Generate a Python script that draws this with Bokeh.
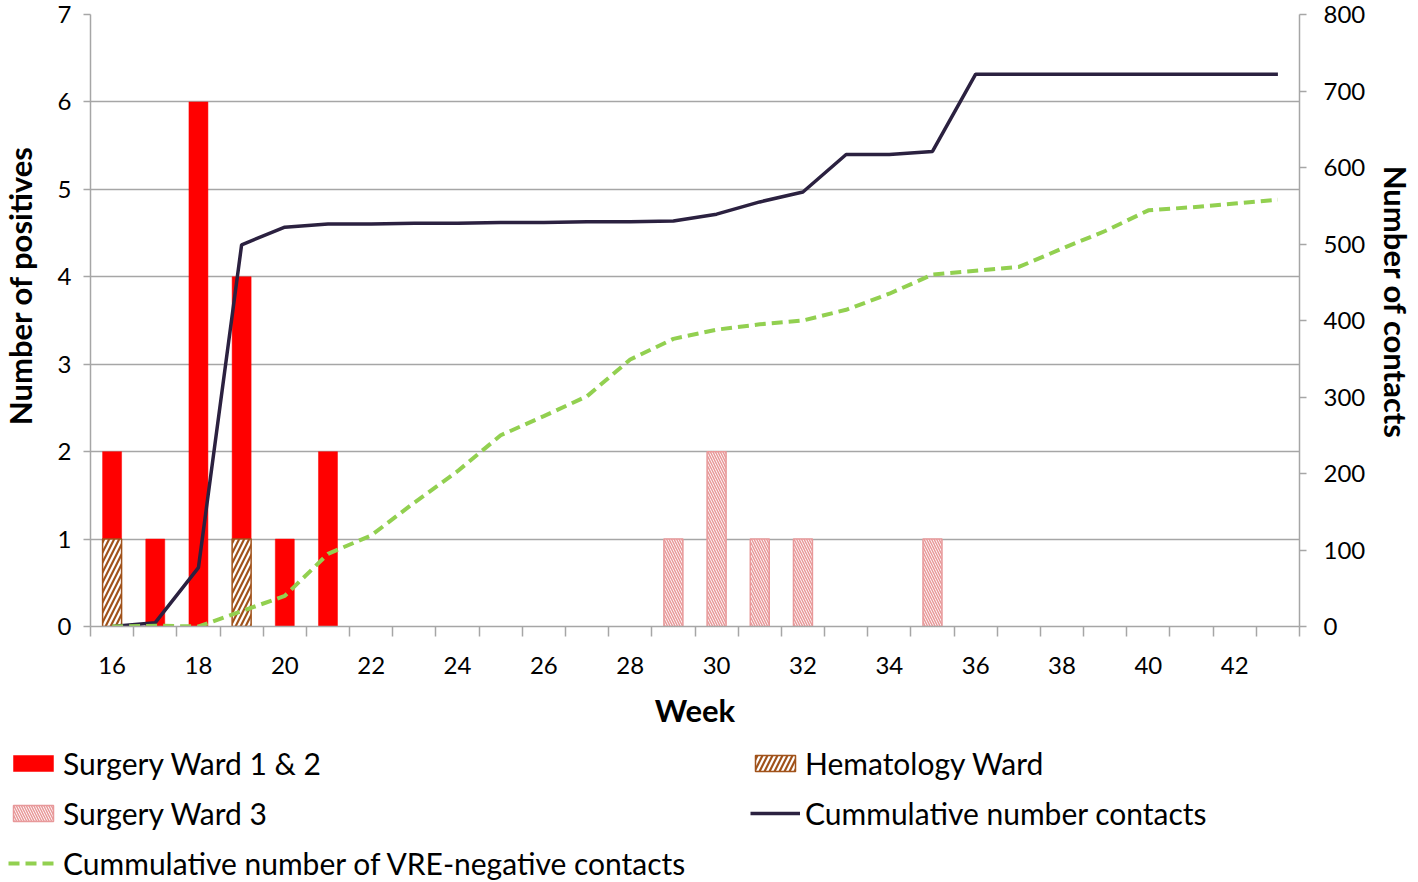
import numpy as np
from bokeh.plotting import figure
from bokeh.layouts import column, row
from bokeh.models import (Range1d, LinearAxis, FixedTicker, Legend, LegendItem,
                          ColumnDataSource, Label)
from bokeh.embed import file_html
from bokeh.resources import INLINE

# ---------------- data ----------------
weeks = list(range(16, 44))
week_tick_labels = [str(w) for w in range(16, 43, 2)]
positives_ticks = list(range(0, 8))
contacts_ticks = list(range(0, 801, 100))

hematology = [1, 0, 0, 1, 0, 0, 0, 0, 0, 0, 0, 0, 0, 0,
              0, 0, 0, 0, 0, 0, 0, 0, 0, 0, 0, 0, 0, 0]
surgery_12 = [1, 1, 6, 3, 1, 2, 0, 0, 0, 0, 0, 0, 0, 0,
              0, 0, 0, 0, 0, 0, 0, 0, 0, 0, 0, 0, 0, 0]
surgery_3 = [0, 0, 0, 0, 0, 0, 0, 0, 0, 0, 0, 0, 0, 1,
             2, 1, 1, 0, 0, 1, 0, 0, 0, 0, 0, 0, 0, 0]
cum_contacts = [0, 5, 77, 499, 522, 526, 526, 527, 527, 528, 528, 529, 529, 530,
                539, 555, 568, 617, 617, 621, 722, 722, 722, 722, 722, 722, 722, 722]
cum_vre_negative = [0, 1, 0, 20, 40, 95, 119, 162, 203, 250, 275, 301, 349, 376,
                    388, 395, 400, 414, 435, 460, 465, 470, 494, 517, 544, 548, 553, 558]

FONT = "Lato"
GRID = "#a6a6a6"
RED = "#ff0000"
BROWN = "#a0521a"
PINK = "#e8999a"
DARK = "#2b2140"
GREEN = "#92d050"

TOP_H = 744      # height of the chart row
LEFT_W = 40      # width of the left title strip
RIGHT_W = 44     # width of the right title strip

# ---------------- main figure ----------------
p = figure(frame_width=1209, frame_height=612,
           x_range=Range1d(15.5, 43.5), y_range=Range1d(0, 7),
           output_backend="svg", toolbar_location=None,
           min_border_left=50, min_border_right=72,
           min_border_top=14, min_border_bottom=118)
p.extra_y_ranges = {"contacts": Range1d(0, 800)}
p.outline_line_color = None

w = np.array(weeks, dtype=float)
hem = np.array(hematology, dtype=float)
s12 = np.array(surgery_12, dtype=float)
s3 = np.array(surgery_3, dtype=float)

m = s12 > 0
src_s12 = ColumnDataSource(dict(x=w[m], bottom=hem[m], top=(hem + s12)[m]))
m = hem > 0
src_hem = ColumnDataSource(dict(x=w[m], bottom=np.zeros(m.sum()), top=hem[m]))
m = s3 > 0
src_s3 = ColumnDataSource(dict(x=w[m], bottom=np.zeros(m.sum()), top=s3[m]))

BW = 0.44
s12_style = dict(fill_color=RED, line_color=RED, line_width=0.5)
hem_style = dict(fill_color="white", line_color=BROWN, line_width=1.5,
                 hatch_pattern="/", hatch_color=BROWN, hatch_weight=2.2, hatch_scale=10)
s3_style = dict(fill_color="white", line_color=PINK, line_width=1.5,
                hatch_pattern="\\", hatch_color=PINK, hatch_weight=1.5, hatch_scale=5)
cont_style = dict(line_color=DARK, line_width=3.5)
vre_style = dict(line_color=GREEN, line_width=4, line_dash="11 6")

p.vbar(x="x", bottom="bottom", top="top", width=BW, source=src_s12, **s12_style)
p.vbar(x="x", bottom="bottom", top="top", width=BW, source=src_hem, **hem_style)
p.vbar(x="x", bottom="bottom", top="top", width=BW, source=src_s3, **s3_style)
p.line(weeks, cum_contacts, y_range_name="contacts", **cont_style)
p.line(weeks, cum_vre_negative, y_range_name="contacts", **vre_style)

# grid
p.xgrid.visible = False
p.ygrid.ticker = FixedTicker(ticks=positives_ticks)
p.ygrid.grid_line_color = GRID
p.ygrid.grid_line_width = 1.5

# x axis
xa = p.xaxis[0]
xa.ticker = FixedTicker(ticks=[int(t) for t in week_tick_labels],
                        minor_ticks=[wk - 0.5 for wk in weeks] + [weeks[-1] + 0.5])
xa.major_tick_line_color = None
xa.major_tick_out = 10
xa.major_tick_in = 0
xa.minor_tick_line_color = GRID
xa.minor_tick_line_width = 1.5
xa.minor_tick_out = 10
xa.minor_tick_in = 0
xa.axis_line_color = GRID
xa.axis_line_width = 1.5
xa.major_label_text_font = FONT
xa.major_label_text_font_size = "24px"
xa.major_label_text_color = "black"
xa.major_label_standoff = 20
xa.axis_label = "Week"
xa.axis_label_text_font = FONT
xa.axis_label_text_font_style = "bold"
xa.axis_label_text_font_size = "31px"
xa.axis_label_text_color = "black"
xa.axis_label_standoff = 14

# left axis
ya = p.yaxis[0]
ya.ticker = FixedTicker(ticks=positives_ticks)
ya.minor_tick_line_color = None
ya.major_tick_out = 7
ya.major_tick_in = 0
ya.major_tick_line_color = GRID
ya.major_tick_line_width = 1.5
ya.axis_line_color = GRID
ya.axis_line_width = 1.5
ya.major_label_text_font = FONT
ya.major_label_text_font_size = "24px"
ya.major_label_text_color = "black"
ya.major_label_standoff = 12

# right axis
ra = LinearAxis(y_range_name="contacts", ticker=FixedTicker(ticks=contacts_ticks))
ra.minor_tick_line_color = None
ra.major_tick_out = 7
ra.major_tick_in = 0
ra.major_tick_line_color = GRID
ra.major_tick_line_width = 1.5
ra.axis_line_color = GRID
ra.axis_line_width = 1.5
ra.major_label_text_font = FONT
ra.major_label_text_font_size = "24px"
ra.major_label_text_color = "black"
ra.major_label_standoff = 17
p.add_layout(ra, "right")

# ---------------- axis title strips ----------------
def strip(width, height):
    f = figure(width=width, height=height, x_range=Range1d(0, width),
               y_range=Range1d(0, height), output_backend="svg",
               toolbar_location=None, x_axis_type=None, y_axis_type=None,
               min_border=0)
    f.frame_align = False
    f.outline_line_color = None
    f.grid.visible = False
    return f

title_style = dict(text_font=FONT, text_font_style="bold", text_font_size="31px",
                   text_color="black", text_align="center", text_baseline="middle",
                   angle_units="deg")

pl = strip(LEFT_W, TOP_H)
pl.add_layout(Label(x=19.5, y=TOP_H - 285, text="Number of positives", angle=90,
                    **title_style))
pr = strip(RIGHT_W, TOP_H)
pr.add_layout(Label(x=24.5, y=TOP_H - 302, text="Number of contacts", angle=-90,
                    **title_style))

# ---------------- legend panel ----------------
p2 = figure(width=1416, height=137, x_range=Range1d(0, 1), y_range=Range1d(0, 1),
            output_backend="svg", toolbar_location=None,
            x_axis_type=None, y_axis_type=None, min_border=0)
p2.frame_align = False
p2.outline_line_color = None
p2.grid.visible = False

# proxy renderers without drawable coordinates; they only carry the legend styles
nan = float("nan")
g_s12 = p2.vbar(x=[nan], bottom=[nan], top=[nan], width=0.1, **s12_style)
g_hem = p2.vbar(x=[nan], bottom=[nan], top=[nan], width=0.1, **hem_style)
g_s3 = p2.vbar(x=[nan], bottom=[nan], top=[nan], width=0.1, **s3_style)
g_cont = p2.line(x=[nan, nan], y=[nan, nan], **cont_style)
g_vre = p2.line(x=[nan, nan], y=[nan, nan], **vre_style)

items = [
    LegendItem(label="Surgery Ward 1 & 2", renderers=[g_s12]),
    LegendItem(label="Hematology Ward", renderers=[g_hem]),
    LegendItem(label="Surgery Ward 3", renderers=[g_s3]),
    LegendItem(label="Cummulative number contacts", renderers=[g_cont]),
    LegendItem(label="Cummulative number of VRE-negative contacts", renderers=[g_vre]),
]
legend = Legend(items=items, location=(8, 0), orientation="horizontal", ncols=2,
                glyph_width=50, glyph_height=20, label_standoff=5, spacing=14,
                label_width=673, label_height=36, padding=0, margin=0,
                border_line_color=None, background_fill_alpha=0,
                label_text_font=FONT, label_text_font_size="30px",
                label_text_color="black")
p2.add_layout(legend, "center")

layout = column(row(pl, p, pr, spacing=0), p2, spacing=0)
open("out.html", "w").write(file_html(layout, INLINE))
